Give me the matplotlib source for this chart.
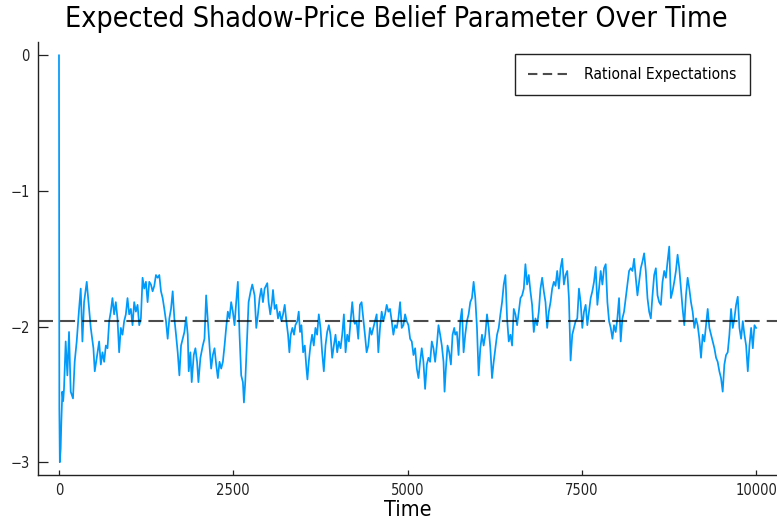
import matplotlib
matplotlib.use("Agg")
import matplotlib.pyplot as plt

# belief parameter, in time order
time_steps = [
    0, 5, 12, 24, 34, 48, 60, 72, 96, 120,
    144, 168, 201, 225, 254, 288, 312, 336, 360, 398,
    432, 456, 494, 513, 542, 576, 600, 624, 648, 672,
    696, 720, 743, 767, 791, 815, 839, 863, 887, 911,
    935, 959, 983, 1007, 1031, 1055, 1079, 1103, 1127, 1151,
    1175, 1199, 1223, 1247, 1271, 1295, 1319, 1343, 1367,
    1391, 1415, 1439, 1463, 1487, 1511, 1535, 1559, 1583, 1607,
    1631, 1655, 1679, 1703, 1727, 1751, 1775, 1799, 1823, 1847,
    1861, 1885, 1904, 1933, 1957, 1981, 2000, 2029, 2063, 2087,
    2111, 2135, 2159, 2183, 2207, 2231, 2255, 2279, 2303, 2327,
    2351, 2375, 2398, 2422, 2446, 2470, 2494, 2518, 2542, 2566,
    2590, 2614, 2638, 2653, 2672, 2701, 2720, 2749, 2773, 2806,
    2830, 2854, 2878, 2902, 2926, 2950, 2988, 3007, 3031, 3055,
    3070, 3094, 3118, 3142, 3166, 3190, 3214, 3238, 3262, 3286,
    3305, 3324, 3348, 3372, 3391, 3420, 3439, 3458, 3478, 3502,
    3526, 3550, 3564, 3583, 3607, 3631, 3655, 3679, 3703, 3727,
    3751, 3775, 3799, 3823, 3847, 3871, 3895, 3919, 3943, 3967,
    3991, 4015, 4039, 4063, 4087, 4111, 4135, 4159, 4183, 4207,
    4231, 4245,
    4269, 4293, 4317, 4341, 4365, 4389, 4413, 4437, 4461, 4485,
    4509, 4533, 4557, 4581, 4605, 4629, 4653, 4677, 4701, 4725,
    4749, 4773, 4797, 4821, 4845, 4869, 4893, 4917, 4941, 4965,
    4989, 5013, 5037, 5061, 5085, 5109, 5133, 5157, 5180, 5204,
    5228, 5252, 5276, 5300, 5324, 5348, 5372, 5396, 5420, 5444,
    5468, 5492, 5516, 5531, 5550, 5574, 5598, 5622, 5646, 5670,
    5684,
    5708, 5732, 5756, 5780, 5804, 5828, 5852, 5876, 5900, 5924,
    5948, 5972, 5996, 6020, 6044, 6068, 6092, 6116, 6140, 6164,
    6188, 6212, 6236, 6260, 6284, 6308, 6332, 6356, 6380, 6404,
    6428, 6452, 6476, 6500, 6524, 6548, 6572, 6596, 6620, 6644,
    6668, 6691, 6715, 6739, 6763, 6787, 6811, 6835, 6859, 6883,
    6907, 6931, 6955, 6979, 7003, 7027, 7051, 7075, 7099, 7123,
    7147, 7171, 7195, 7219, 7243, 7267, 7291, 7315, 7329, 7339,
    7363, 7387, 7411, 7435, 7459, 7483, 7507, 7531, 7555, 7579,
    7603, 7627, 7651, 7675, 7699, 7723, 7747, 7771, 7795, 7819,
    7843, 7867, 7891, 7915, 7939, 7962, 7986, 8010, 8034, 8058,
    8082, 8106, 8130, 8154, 8178, 8202, 8226, 8250, 8274, 8298,
    8322, 8346, 8370, 8394, 8418, 8442, 8466, 8490, 8514, 8538,
    8562,
    8586, 8610, 8634, 8658, 8682, 8706, 8730, 8754, 8778, 8802,
    8826, 8850, 8874, 8898, 8922, 8946, 8970, 8994, 9018, 9042,
    9066, 9090, 9114, 9138, 9162, 9186, 9210, 9234, 9258, 9282,
    9306, 9330, 9354, 9378, 9402, 9426, 9449, 9473, 9497, 9521,
    9545, 9569, 9593, 9617, 9641, 9665, 9689, 9713, 9737, 9761,
    9785, 9809, 9833, 9857, 9881, 9905, 9929, 9953, 9977, 10000,
]
belief = [
    0.00, -2.60, -3.00, -2.90, -2.70, -2.48, -2.55, -2.46, -2.11, -2.36,
    -2.04, -2.48, -2.53, -2.26, -2.11, -1.87, -1.72, -2.11, -1.82, -1.67,
    -1.87, -2.01, -2.16, -2.33, -2.23, -2.11, -2.28, -2.19, -2.26, -2.14,
    -2.16, -1.96, -1.89, -1.79, -1.91, -1.82, -1.94, -2.19, -2.01, -2.06,
    -1.96, -1.91, -1.79, -1.91, -1.87, -1.99, -1.82, -1.89, -1.84, -1.99,
    -1.94, -1.64, -1.72, -1.67, -1.82, -1.67, -1.69, -1.74, -1.70,
    -1.62, -1.64, -1.62, -1.74, -1.79, -1.87, -1.96, -2.09, -1.94, -1.87,
    -1.74, -1.94, -2.06, -2.19, -2.36, -2.14, -2.09, -2.04, -1.93, -2.06,
    -2.33, -2.19, -2.41, -2.21, -2.16, -2.26, -2.41, -2.23, -2.14, -2.09,
    -1.77, -1.96, -2.14, -2.31, -2.21, -2.16, -2.28, -2.38, -2.26, -2.31,
    -2.26, -2.14, -2.01, -1.89, -1.94, -1.82, -1.89, -1.99, -1.82, -1.67,
    -2.06, -2.36, -2.41, -2.56, -2.41, -2.06, -1.82, -1.74, -1.69, -1.77,
    -2.01, -1.91, -1.79, -1.72, -1.82, -1.72, -1.68, -1.82, -1.91, -1.82,
    -1.73, -1.87, -1.84, -1.94, -1.89, -1.96, -1.91, -1.84, -1.96, -2.06,
    -2.19, -2.06, -2.01, -2.06, -1.99, -1.96, -1.89, -2.04, -1.99, -2.19,
    -2.14, -2.31, -2.39, -2.26, -2.14, -2.06, -2.14, -2.01, -2.06, -1.91,
    -2.01, -2.19, -2.33, -2.14, -2.04, -1.99, -2.06, -2.23, -2.14, -2.06,
    -2.19, -2.11, -2.16, -2.06, -1.91, -2.19, -2.06, -2.11, -1.96, -1.82,
    -1.96, -1.98,
    -1.96, -2.09, -1.84, -1.82, -1.94, -2.06, -2.19, -2.14, -2.01, -2.06,
    -2.01, -1.96, -1.91, -2.19, -2.01, -1.89, -1.96, -1.91, -1.84, -1.89,
    -1.87, -1.96, -2.06, -1.99, -2.01, -1.94, -1.82, -2.01, -1.99, -1.91,
    -1.96, -1.99, -2.09, -2.11, -2.21, -2.16, -2.31, -2.38, -2.26, -2.16,
    -2.26, -2.46, -2.28, -2.23, -2.26, -2.11, -2.16, -2.26, -2.14, -1.99,
    -2.06, -2.14, -2.26, -2.48, -2.31, -2.14, -2.19, -2.28, -2.06, -2.01,
    -2.06,
    -2.04, -2.21, -1.96, -1.87, -2.19, -2.06, -1.96, -1.91, -1.82, -1.79,
    -1.67, -1.79, -2.01, -2.36, -2.16, -2.06, -2.14, -2.06, -1.91, -2.01,
    -2.16, -2.38, -2.26, -2.16, -2.06, -2.01, -1.91, -1.82, -1.69, -1.62,
    -1.94, -2.11, -2.06, -2.14, -1.87, -1.91, -1.99, -1.89, -1.79, -1.77,
    -1.72, -1.54, -1.69, -1.62, -1.74, -1.84, -2.04, -1.94, -1.99, -1.89,
    -1.72, -1.64, -1.74, -1.82, -2.01, -1.89, -1.82, -1.72, -1.67, -1.70,
    -1.59, -1.72, -1.57, -1.50, -1.69, -1.62, -1.59, -1.79, -2.06, -2.25,
    -2.06, -2.01, -1.96, -1.94, -1.72, -1.82, -2.01, -1.89, -1.84, -1.99,
    -1.89, -1.79, -1.74, -1.67, -1.56, -1.84, -1.72, -1.59, -1.69, -1.57,
    -1.54, -1.82, -1.96, -2.01, -2.09, -1.99, -2.04, -1.94, -1.79, -2.11,
    -1.94, -1.89, -1.79, -1.69, -1.59, -1.57, -1.59, -1.50, -1.64, -1.77,
    -1.67, -1.57, -1.52, -1.46, -1.59, -1.79, -1.89, -1.94, -1.77, -1.62,
    -1.57,
    -1.77, -1.82, -1.84, -1.67, -1.59, -1.64, -1.52, -1.41, -1.79, -1.74,
    -1.67, -1.59, -1.47, -1.57, -1.72, -1.87, -1.99, -1.77, -1.64, -1.72,
    -1.82, -1.89, -2.01, -1.94, -1.99, -2.09, -2.23, -2.06, -2.11, -1.99,
    -1.87, -2.01, -2.06, -2.11, -2.16, -2.23, -2.26, -2.33, -2.38, -2.48,
    -2.28, -2.21, -2.19, -2.06, -1.87, -2.01, -1.94, -1.84, -1.78, -2.01,
    -2.09, -1.96, -2.06, -2.14, -2.33, -2.14, -2.01, -2.16, -1.99, -2.01,
]
rational_expectations = -1.958

x_ticks = [0, 2500, 5000, 7500, 10000]
y_ticks = [0, -1, -2, -3]

fig = plt.figure(figsize=(7.77, 5.29), dpi=100)
ax = fig.add_axes([0.049, 0.102, 0.951, 0.819])

ax.plot(time_steps, belief, color="#009AFA", lw=1.25, label="_nolegend_")
ax.axhline(rational_expectations, color="black", alpha=0.7, lw=1.5,
           dashes=(7.2, 3.4), label="Rational Expectations")

ax.set_xlim(-300, 10300)
ax.set_ylim(-3.095, 0.1)
ax.set_xticks(x_ticks)
ax.set_yticks(y_ticks)

for side in ["top", "right"]:
    ax.spines[side].set_visible(False)
for side in ["left", "bottom"]:
    ax.spines[side].set_linewidth(1.0)
    ax.spines[side].set_color("#222222")

ax.tick_params(axis="y", direction="in", length=7, width=0.9, labelsize=10.5,
               pad=6, colors="#222222")
ax.tick_params(axis="x", direction="in", length=3.5, width=0.9, labelsize=10.5,
               pad=6, colors="#222222")
for lab in ax.get_xticklabels() + ax.get_yticklabels():
    lab.set_fontstretch("condensed")

ax.set_xlabel("Time", fontsize=15.5, fontstretch="condensed", labelpad=1)
fig.suptitle("Expected Shadow-Price Belief Parameter Over Time", fontsize=20.5,
             fontstretch="condensed", x=0.51, y=0.99)

leg = ax.legend(loc="upper right", bbox_to_anchor=(0.963, 0.972),
                fontsize=11.2, frameon=True, fancybox=False, framealpha=1,
                handlelength=2.8, handletextpad=0.8, borderpad=0.85,
                borderaxespad=0)
leg.get_frame().set_edgecolor("#222222")
leg.get_frame().set_linewidth(1.0)
leg.get_lines()[0].set_dashes((4.5, 2.6))
for t in leg.get_texts():
    t.set_fontstretch("condensed")

fig.savefig("out.png", dpi=100)
